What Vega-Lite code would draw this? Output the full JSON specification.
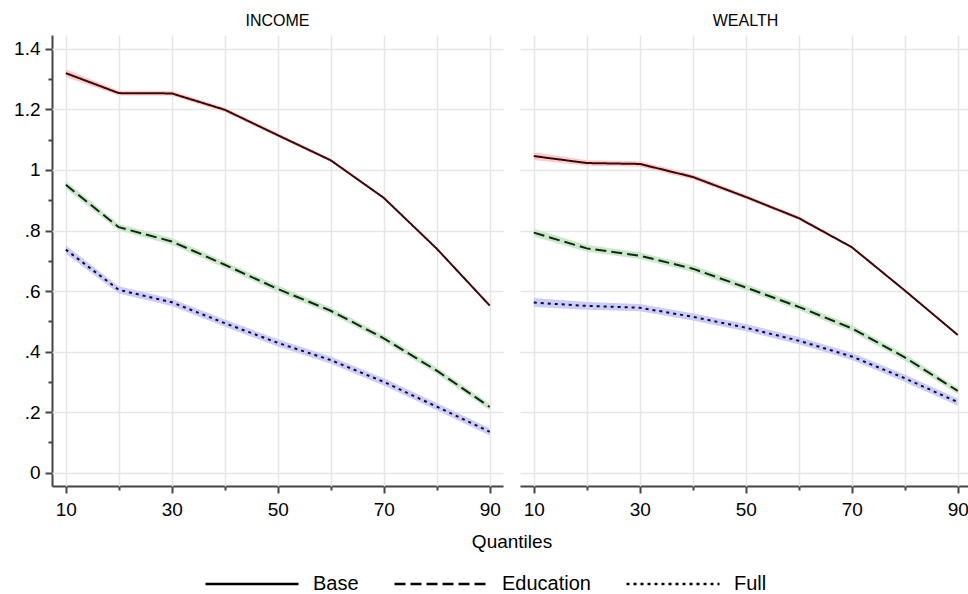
{
  "$schema": "https://vega.github.io/schema/vega-lite/v6.json",
  "padding": {"left": 13, "top": 13, "right": 0, "bottom": 5},
  "background": "white",
  "data": {"values": [
    {"p":"INCOME","s":"Base","q":10,"e":1.320,"lo":1.307,"hi":1.333},
    {"p":"INCOME","s":"Base","q":20,"e":1.254,"lo":1.246,"hi":1.262},
    {"p":"INCOME","s":"Base","q":30,"e":1.253,"lo":1.245,"hi":1.261},
    {"p":"INCOME","s":"Base","q":40,"e":1.199,"lo":1.192,"hi":1.206},
    {"p":"INCOME","s":"Base","q":50,"e":1.115,"lo":1.109,"hi":1.121},
    {"p":"INCOME","s":"Base","q":60,"e":1.032,"lo":1.027,"hi":1.037},
    {"p":"INCOME","s":"Base","q":70,"e":0.908,"lo":0.904,"hi":0.912},
    {"p":"INCOME","s":"Base","q":80,"e":0.740,"lo":0.737,"hi":0.743},
    {"p":"INCOME","s":"Base","q":90,"e":0.552,"lo":0.549,"hi":0.555},
    {"p":"INCOME","s":"Education","q":10,"e":0.951,"lo":0.938,"hi":0.964},
    {"p":"INCOME","s":"Education","q":20,"e":0.811,"lo":0.800,"hi":0.822},
    {"p":"INCOME","s":"Education","q":30,"e":0.764,"lo":0.753,"hi":0.775},
    {"p":"INCOME","s":"Education","q":40,"e":0.687,"lo":0.676,"hi":0.698},
    {"p":"INCOME","s":"Education","q":50,"e":0.607,"lo":0.596,"hi":0.618},
    {"p":"INCOME","s":"Education","q":60,"e":0.535,"lo":0.524,"hi":0.546},
    {"p":"INCOME","s":"Education","q":70,"e":0.444,"lo":0.433,"hi":0.455},
    {"p":"INCOME","s":"Education","q":80,"e":0.337,"lo":0.326,"hi":0.348},
    {"p":"INCOME","s":"Education","q":90,"e":0.217,"lo":0.206,"hi":0.228},
    {"p":"INCOME","s":"Full","q":10,"e":0.737,"lo":0.723,"hi":0.751},
    {"p":"INCOME","s":"Full","q":20,"e":0.604,"lo":0.592,"hi":0.616},
    {"p":"INCOME","s":"Full","q":30,"e":0.563,"lo":0.551,"hi":0.575},
    {"p":"INCOME","s":"Full","q":40,"e":0.494,"lo":0.482,"hi":0.506},
    {"p":"INCOME","s":"Full","q":50,"e":0.429,"lo":0.417,"hi":0.441},
    {"p":"INCOME","s":"Full","q":60,"e":0.372,"lo":0.360,"hi":0.384},
    {"p":"INCOME","s":"Full","q":70,"e":0.300,"lo":0.288,"hi":0.312},
    {"p":"INCOME","s":"Full","q":80,"e":0.218,"lo":0.206,"hi":0.230},
    {"p":"INCOME","s":"Full","q":90,"e":0.135,"lo":0.123,"hi":0.147},
    {"p":"WEALTH","s":"Base","q":10,"e":1.046,"lo":1.033,"hi":1.059},
    {"p":"WEALTH","s":"Base","q":20,"e":1.023,"lo":1.014,"hi":1.032},
    {"p":"WEALTH","s":"Base","q":30,"e":1.020,"lo":1.011,"hi":1.029},
    {"p":"WEALTH","s":"Base","q":40,"e":0.977,"lo":0.969,"hi":0.985},
    {"p":"WEALTH","s":"Base","q":50,"e":0.911,"lo":0.904,"hi":0.918},
    {"p":"WEALTH","s":"Base","q":60,"e":0.841,"lo":0.835,"hi":0.847},
    {"p":"WEALTH","s":"Base","q":70,"e":0.745,"lo":0.741,"hi":0.749},
    {"p":"WEALTH","s":"Base","q":80,"e":0.602,"lo":0.599,"hi":0.605},
    {"p":"WEALTH","s":"Base","q":90,"e":0.455,"lo":0.452,"hi":0.458},
    {"p":"WEALTH","s":"Education","q":10,"e":0.793,"lo":0.780,"hi":0.806},
    {"p":"WEALTH","s":"Education","q":20,"e":0.741,"lo":0.730,"hi":0.752},
    {"p":"WEALTH","s":"Education","q":30,"e":0.717,"lo":0.706,"hi":0.728},
    {"p":"WEALTH","s":"Education","q":40,"e":0.674,"lo":0.663,"hi":0.685},
    {"p":"WEALTH","s":"Education","q":50,"e":0.612,"lo":0.601,"hi":0.623},
    {"p":"WEALTH","s":"Education","q":60,"e":0.548,"lo":0.537,"hi":0.559},
    {"p":"WEALTH","s":"Education","q":70,"e":0.477,"lo":0.466,"hi":0.488},
    {"p":"WEALTH","s":"Education","q":80,"e":0.381,"lo":0.370,"hi":0.392},
    {"p":"WEALTH","s":"Education","q":90,"e":0.270,"lo":0.259,"hi":0.281},
    {"p":"WEALTH","s":"Full","q":10,"e":0.562,"lo":0.547,"hi":0.577},
    {"p":"WEALTH","s":"Full","q":20,"e":0.551,"lo":0.538,"hi":0.564},
    {"p":"WEALTH","s":"Full","q":30,"e":0.545,"lo":0.533,"hi":0.557},
    {"p":"WEALTH","s":"Full","q":40,"e":0.515,"lo":0.503,"hi":0.527},
    {"p":"WEALTH","s":"Full","q":50,"e":0.479,"lo":0.467,"hi":0.491},
    {"p":"WEALTH","s":"Full","q":60,"e":0.436,"lo":0.424,"hi":0.448},
    {"p":"WEALTH","s":"Full","q":70,"e":0.384,"lo":0.372,"hi":0.396},
    {"p":"WEALTH","s":"Full","q":80,"e":0.312,"lo":0.300,"hi":0.324},
    {"p":"WEALTH","s":"Full","q":90,"e":0.233,"lo":0.221,"hi":0.245}
  ]},
  "facet": {
    "column": {
      "field": "p", "type": "nominal",
      "header": {
        "title": "Quantiles", "titleOrient": "bottom", "labelOrient": "top",
        "labelFont": "Liberation Sans", "labelFontSize": 16, "labelColor": "black", "labelPadding": 6,
        "titleFont": "Liberation Sans", "titleFontSize": 19, "titleColor": "black", "titleFontWeight": "normal", "titlePadding": 4
      }
    }
  },
  "spacing": 17,
  "spec": {
    "width": 451,
    "height": 451,
    "layer": [
      {
        "mark": {"type": "area", "opacity": 1},
        "encoding": {
          "x": {"field": "q", "type": "quantitative",
                "scale": {"domain": [7.4, 92.5], "nice": false, "zero": false},
                "axis": {"title": null, "values": [10,20,30,40,50,60,70,80,90], "labelPadding": 7,
                         "labelExpr": "datum.value % 20 == 10 ? datum.label : ''",
                         "tickSize": {"condition": {"test": "datum.value % 20 == 0", "value": 4}, "value": 7}}},
          "y": {"field": "lo", "type": "quantitative",
                "scale": {"domain": [-0.044, 1.446], "nice": false, "zero": false},
                "axis": {"title": null, "values": [0,0.1,0.2,0.3,0.4,0.5,0.6,0.7,0.8,0.9,1,1.1,1.2,1.3,1.4],
                         "labelExpr": "round(datum.value*10) % 2 == 1 ? '' : replace(format(datum.value, '.1~f'), '0.', '.')",
                         "tickSize": {"condition": {"test": "round(datum.value*10) % 2 == 1", "value": 4}, "value": 7},
                         "gridOpacity": {"condition": {"test": "round(datum.value*10) % 2 == 1", "value": 0}, "value": 1}}},
          "y2": {"field": "hi"},
          "fill": {"field": "s", "type": "nominal",
                   "scale": {"range": ["#f9cbcb", "#cce7cc", "#ccccf9"]},
                   "legend": null}
        }
      },
      {
        "mark": {"type": "line", "strokeWidth": 2},
        "encoding": {
          "x": {"field": "q", "type": "quantitative",
                "axis": {"title": null, "values": [10,20,30,40,50,60,70,80,90], "labelPadding": 7,
                         "labelExpr": "datum.value % 20 == 10 ? datum.label : ''",
                         "tickSize": {"condition": {"test": "datum.value % 20 == 0", "value": 4}, "value": 7}}},
          "y": {"field": "e", "type": "quantitative",
                "axis": {"title": null, "values": [0,0.1,0.2,0.3,0.4,0.5,0.6,0.7,0.8,0.9,1,1.1,1.2,1.3,1.4],
                         "labelExpr": "round(datum.value*10) % 2 == 1 ? '' : replace(format(datum.value, '.1~f'), '0.', '.')",
                         "tickSize": {"condition": {"test": "round(datum.value*10) % 2 == 1", "value": 4}, "value": 7},
                         "gridOpacity": {"condition": {"test": "round(datum.value*10) % 2 == 1", "value": 0}, "value": 1}}},
          "stroke": {"field": "s", "type": "nominal",
                     "scale": {"range": ["#400606", "#0a2c0a", "#0a0a38"]},
                     "legend": null},
          "strokeDash": {"field": "s", "type": "nominal",
                         "scale": {"domain": ["Base", "Education", "Full"], "range": [[1, 0], [11, 5], [3, 4]]},
                         "legend": {"title": null, "orient": "none", "legendX": 152, "legendY": 501, "direction": "horizontal",
                                    "symbolType": "stroke", "symbolSize": 8649, "symbolStrokeWidth": 2.5,
                                    "symbolStrokeColor": "black", "labelFont": "Liberation Sans", "labelFontSize": 20,
                                    "labelColor": "black", "labelOffset": 13, "columnPadding": 30}}
        }
      }
    ]
  },
  "config": {
    "view": {"stroke": null},
    "font": "Liberation Sans",
    "axis": {
      "domainColor": "#444444", "domainWidth": 2, "tickColor": "#444444", "tickWidth": 2,
      "labelFont": "Liberation Sans", "labelFontSize": 19, "labelColor": "black", "labelPadding": 5,
      "grid": true, "gridColor": "#e6e6e6", "gridWidth": 1.5,
      "labelOverlap": false, "labelFlush": false, "labelBound": false
    }
  }
}
